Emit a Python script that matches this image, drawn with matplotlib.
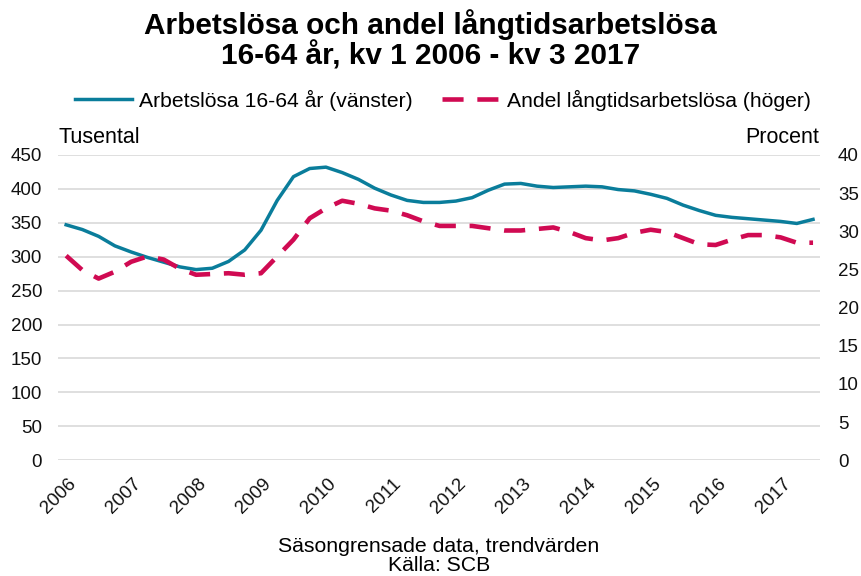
import numpy as np
import matplotlib.pyplot as plt

plt.rcParams['font.family'] = ['Liberation Sans', 'DejaVu Sans']

# quarterly, kv 1 2006 - kv 3 2017
years = [str(y) for y in range(2006, 2018)]
arbetslosa = [347, 340, 330, 316, 307, 299, 292, 285, 281, 283, 293, 310,
              339, 383, 418, 430, 432, 424, 414, 401, 391, 383, 380, 380,
              382, 387, 398, 407, 408, 404, 402, 403, 404, 403, 399, 397,
              392, 386, 376, 368, 361, 358, 356, 354, 352, 349, 355]
langtid = [26.8, 24.9, 23.8, 24.7, 26.0, 26.7, 26.3, 25.1, 24.3, 24.4, 24.5, 24.3,
           24.5, 26.7, 28.9, 31.7, 33.0, 34.0, 33.6, 33.0, 32.7, 32.1, 31.3, 30.7,
           30.7, 30.7, 30.4, 30.1, 30.1, 30.3, 30.5, 29.9, 29.1, 28.8, 29.1, 29.8,
           30.2, 29.9, 29.1, 28.3, 28.2, 28.9, 29.5, 29.5, 29.2, 28.5, 28.5]

blue = '#0a7d9b'
red = '#d00a52'
x = np.arange(len(arbetslosa))

fig = plt.figure(figsize=(8.61, 5.76), dpi=100)
ax = fig.add_axes([0.0674, 0.201, 0.885, 0.530])
ax2 = ax.twinx()

l1, = ax.plot(x, arbetslosa, color=blue, lw=2.5, label='Arbetslösa 16-64 år (vänster)', zorder=3)
l2, = ax2.plot(x, langtid, color=red, lw=3.3, dashes=(4.6, 3.0),
               label='Andel långtidsarbetslösa (höger)', zorder=3)

ax.set_ylim(0, 450)
ax.set_yticks(range(0, 451, 50))
ax2.set_ylim(0, 40)
ax2.set_yticks(range(0, 41, 5))
ax.set_xlim(-0.5, 46.43)

ax.grid(axis='y', color='#d9d9d9', lw=1.2)
ax.set_axisbelow(True)
for a in (ax, ax2):
    for s in a.spines.values():
        s.set_visible(False)
    a.tick_params(length=0, labelsize=13.5, colors='#111111')
ax.tick_params(axis='y', pad=11.5)
ax2.tick_params(axis='y', pad=13)

ax.set_xticks(x[::4] + 0.1)
ax.set_xticklabels(years, rotation=45, ha='right', va='top', rotation_mode='anchor')
ax.tick_params(axis='x', pad=11)

fig.text(0.5, 0.985, 'Arbetslösa och andel långtidsarbetslösa\n16-64 år, kv 1 2006 - kv 3 2017',
         ha='center', va='top', fontsize=21.4, fontweight='bold', linespacing=1.05)
fig.legend(handles=[l1, l2], loc='center', bbox_to_anchor=(0.514, 0.826), ncol=2,
           frameon=False, fontsize=15.2, handlelength=2.7, columnspacing=1.4,
           handletextpad=0.35, borderpad=0, borderaxespad=0)
fig.text(0.0674, 0.762, 'Tusental', ha='left', va='center', fontsize=15.5)
fig.text(0.951, 0.762, 'Procent', ha='right', va='center', fontsize=15.5)
fig.text(0.51, 0.035, 'Säsongrensade data, trendvärden\nKälla: SCB', ha='center', va='center',
         fontsize=15.3, linespacing=1.0)

fig.savefig('out.png', dpi=100)
